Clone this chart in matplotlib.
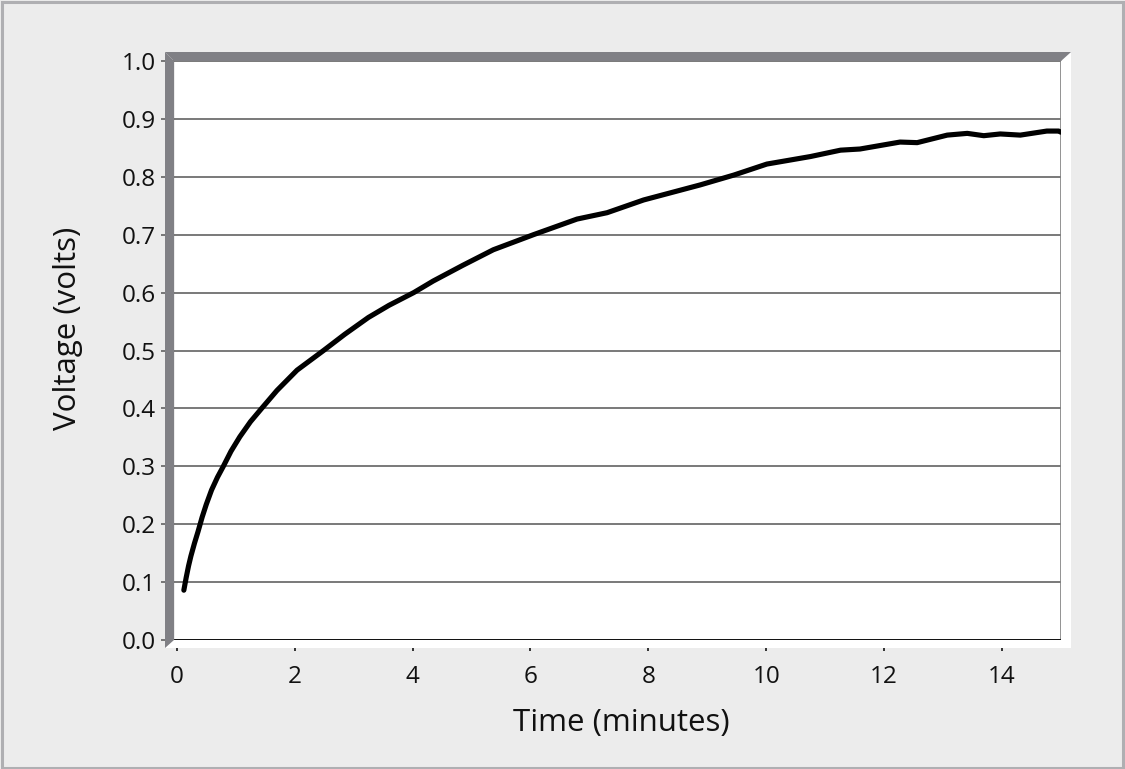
import matplotlib
matplotlib.use("Agg")
import matplotlib.pyplot as plt
from matplotlib.patches import Polygon, Rectangle

plt.rcParams['font.family'] = ['Open Sans', 'DejaVu Sans']

# data
time_min = [0.12, 0.16, 0.20, 0.24, 0.30, 0.36, 0.43, 0.50, 0.59, 0.69, 0.79, 0.92, 1.07,
            1.25, 1.44, 1.70, 2.04, 2.49, 2.85, 3.25, 3.60, 4.02, 4.35, 4.85,
            5.37, 6.05, 6.79, 7.30, 7.92, 8.88, 9.45, 10.01, 10.75, 11.26, 11.59,
            12.27, 12.56, 13.07, 13.41, 13.69, 13.97, 14.31, 14.76, 14.96, 15.0]
voltage = [0.086, 0.108, 0.128, 0.145, 0.167, 0.187, 0.212, 0.234, 0.259, 0.281, 0.300, 0.326, 0.351,
           0.377, 0.400, 0.431, 0.466, 0.500, 0.528, 0.557, 0.578, 0.600, 0.620, 0.647,
           0.674, 0.700, 0.727, 0.738, 0.760, 0.786, 0.803, 0.822, 0.835, 0.846, 0.848,
           0.860, 0.859, 0.872, 0.875, 0.871, 0.874, 0.872, 0.879, 0.879, 0.877]
x_ticks = [0, 2, 4, 6, 8, 10, 12, 14]
y_ticks = [0.0, 0.1, 0.2, 0.3, 0.4, 0.5, 0.6, 0.7, 0.8, 0.9, 1.0]
y_tick_labels = ['0.0', '0.1', '0.2', '0.3', '0.4', '0.5', '0.6', '0.7', '0.8', '0.9', '1.0']

W, H = 1125, 769
fig = plt.figure(figsize=(W / 100, H / 100), dpi=100)
fig.patch.set_facecolor('#ececec')

def fx(px):
    return px / W

def fy(py):
    return 1 - py / H

# outer border
fig.patches.append(Rectangle((fx(1.5), fy(767.5)), fx(1121), 1 - fy(766), transform=fig.transFigure,
                             facecolor='none', edgecolor='#afafb2', linewidth=2.2, zorder=0))

# white floor and right side panel
fig.patches.append(Polygon([(fx(165), fy(648)), (fx(1071), fy(648)), (fx(1071), fy(52)),
                            (fx(1061), fy(61)), (fx(1061), fy(640)), (fx(173), fy(640))],
                           closed=True, transform=fig.transFigure, facecolor='white',
                           edgecolor='none', zorder=0.5))
# gray left wall
fig.patches.append(Polygon([(fx(165), fy(52)), (fx(174), fy(61)), (fx(174), fy(640)), (fx(165), fy(648))],
                           closed=True, transform=fig.transFigure, facecolor='#808085',
                           edgecolor='none', zorder=0.6))
# gray top wall
fig.patches.append(Polygon([(fx(165), fy(52)), (fx(1071), fy(52)), (fx(1061), fy(61)), (fx(174), fy(61))],
                           closed=True, transform=fig.transFigure, facecolor='#808085',
                           edgecolor='none', zorder=0.6))

ax = fig.add_axes([fx(175), fy(640), fx(1061) - fx(175), fy(61) - fy(640)])
ax.set_facecolor('white')
ax.set_xlim(-0.03, 15.0)
ax.set_ylim(0, 1.0)

for yv in y_ticks:
    ax.axhline(yv, color='#555555', linewidth=1.1, zorder=1)

ax.plot(time_min, voltage, color='black', linewidth=3.7, solid_capstyle='round',
        solid_joinstyle='round', zorder=3, clip_on=False)

for side in ['top', 'left']:
    ax.spines[side].set_visible(False)
ax.spines['right'].set_color('#808080')
ax.spines['right'].set_linewidth(1.2)
ax.spines['bottom'].set_color('black')
ax.spines['bottom'].set_linewidth(1.2)

ax.set_xticks(x_ticks)
ax.set_xticklabels([str(t) for t in x_ticks])
ax.set_yticks(y_ticks)
ax.set_yticklabels(y_tick_labels)
ax.tick_params(axis='x', direction='out', length=8, width=1.1, color='black',
               labelsize=17.5, pad=10, labelcolor='#111111')
ax.tick_params(axis='y', direction='out', length=10, width=1.1, color='#555555',
               labelsize=17.5, pad=4, labelcolor='#111111')

fig.text(fx(621), fy(723), 'Time (minutes)', fontsize=22.5, color='#111111',
         ha='center', va='center')
fig.text(fx(68), fy(328), 'Voltage (volts)', fontsize=22.5, color='#111111',
         ha='center', va='center', rotation=90)

fig.savefig('out.png', dpi=100, facecolor=fig.get_facecolor())
